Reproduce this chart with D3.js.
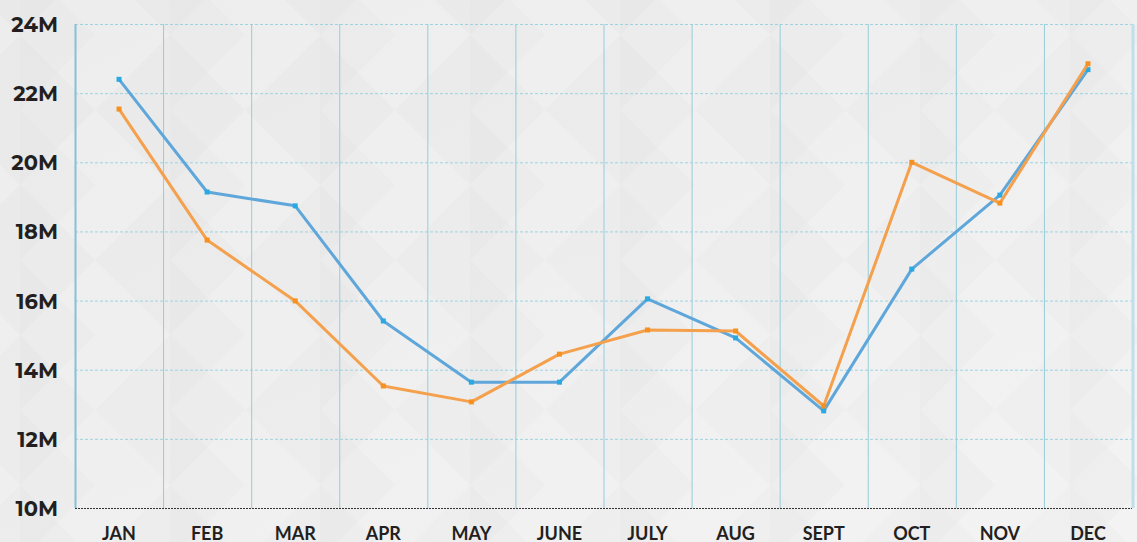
<!DOCTYPE html>
<html><head><meta charset="utf-8">
<script src="https://cdn.jsdelivr.net/npm/d3@7"></script>
<style>html,body{margin:0;padding:0;background:#ececec;overflow:hidden}</style>
</head><body><svg id="c" width="1137" height="542"></svg>
<script>
const months = ["JAN","FEB","MAR","APR","MAY","JUNE","JULY","AUG","SEPT","OCT","NOV","DEC"];
const seriesBlue = [22.4,19.14,18.74,15.41,13.64,13.64,16.05,14.92,12.81,16.91,19.05,22.68];
const seriesOrange = [21.54,17.75,15.99,13.53,13.07,14.45,15.15,15.12,12.95,20.0,18.82,22.85];
const yTicks = [10,12,14,16,18,20,22,24];

const svg = d3.select("#c");
const W = 1137, H = 542;
const m = {l:75, r:5, t:24, b:34};

// background
const defs = svg.append("defs");
const lg = defs.append("linearGradient").attr("id","bg").attr("x1",0).attr("y1",0).attr("x2",1).attr("y2",1);
lg.append("stop").attr("offset",0).attr("stop-color","#e9e9e9");
lg.append("stop").attr("offset",1).attr("stop-color","#f0f0f0");
svg.append("rect").attr("width",W).attr("height",H).attr("fill","url(#bg)");
const pat = defs.append("pattern").attr("id","dia").attr("patternUnits","userSpaceOnUse")
  .attr("width",150).attr("height",150).attr("x",20).attr("y",-40);
pat.append("path").attr("d","M75,0 L150,75 L75,150 L0,75 Z").attr("fill","#ffffff").attr("opacity",0.18);
pat.append("path").attr("d","M0,0 L75,75 L0,150 Z").attr("fill","#dcdcdc").attr("opacity",0.12);
svg.append("rect").attr("width",W).attr("height",H).attr("fill","url(#dia)");

const x = d3.scaleBand().domain(months).range([m.l, W - m.r]).padding(0);
const y = d3.scaleLinear().domain([10,24]).range([H - m.b, m.t]);

// horizontal dashed grid
svg.append("g").selectAll("line").data(yTicks.filter(d=>d>10)).join("line")
  .attr("x1",m.l).attr("x2",W-m.r).attr("y1",d=>y(d)+0.5).attr("y2",d=>y(d)+0.5)
  .attr("stroke","#9ed3e0").attr("stroke-width",1).attr("stroke-dasharray","3,2");

// vertical grid lines at band boundaries
svg.append("g").selectAll("line").data(months.slice(1)).join("line")
  .attr("x1",d=>x(d)+0.5).attr("x2",d=>x(d)+0.5).attr("y1",m.t).attr("y2",H-m.b)
  .attr("stroke","#96cdd9").attr("stroke-width",1);

// right edge
svg.append("line").attr("x1",W-m.r+1).attr("x2",W-m.r+1).attr("y1",m.t).attr("y2",H-m.b)
  .attr("stroke","#bfe0ea").attr("stroke-width",3);

// left axis line
svg.append("line").attr("x1",m.l+0.5).attr("x2",m.l+0.5).attr("y1",m.t).attr("y2",H-m.b)
  .attr("stroke","#86bfd9").attr("stroke-width",2);

// bottom axis line (dotted dark)
svg.append("line").attr("x1",m.l).attr("x2",W-m.r).attr("y1",H-m.b+0.5).attr("y2",H-m.b+0.5)
  .attr("stroke","#333").attr("stroke-width",1.2).attr("stroke-dasharray","2,1");

// y labels
const yAxis = d3.axisLeft(y).tickValues(yTicks).tickFormat(d=>d+"M").tickSize(0).tickPadding(0);
const ga = svg.append("g").attr("transform",`translate(58,0)`).call(yAxis);
ga.select(".domain").remove();
ga.selectAll("text").attr("font-family","Montserrat, Lato, 'Open Sans', sans-serif")
  .attr("font-weight","bold").attr("font-size",21).attr("fill","#231f20").attr("dy","0.36em");

// x labels
const xAxis = d3.axisBottom(x).tickSize(0).tickPadding(0);
const gx = svg.append("g").attr("transform",`translate(0,${H-m.b})`).call(xAxis);
gx.select(".domain").remove();
gx.selectAll("text").attr("font-family","Lato, 'Open Sans', sans-serif")
  .attr("font-weight","bold").attr("font-size",18).attr("fill","#231f20").attr("dy","32").attr("y",0);

const line = d3.line().x((d,i)=>x(months[i])+x.bandwidth()/2).y(d=>y(d));

function drawSeries(data, lineColor, markColor){
  svg.append("path").datum(data).attr("d",line).attr("fill","none")
    .attr("stroke",lineColor).attr("stroke-width",3).attr("stroke-linejoin","round");
  svg.append("g").selectAll("rect").data(data).join("rect")
    .attr("x",(d,i)=>x(months[i])+x.bandwidth()/2-2.5).attr("y",d=>y(d)-2.5)
    .attr("width",5).attr("height",5).attr("fill",markColor);
}
drawSeries(seriesBlue, "#5fa7da", "#27a9e1");
drawSeries(seriesOrange, "#f4a04c", "#f7901e");
</script></body></html>
